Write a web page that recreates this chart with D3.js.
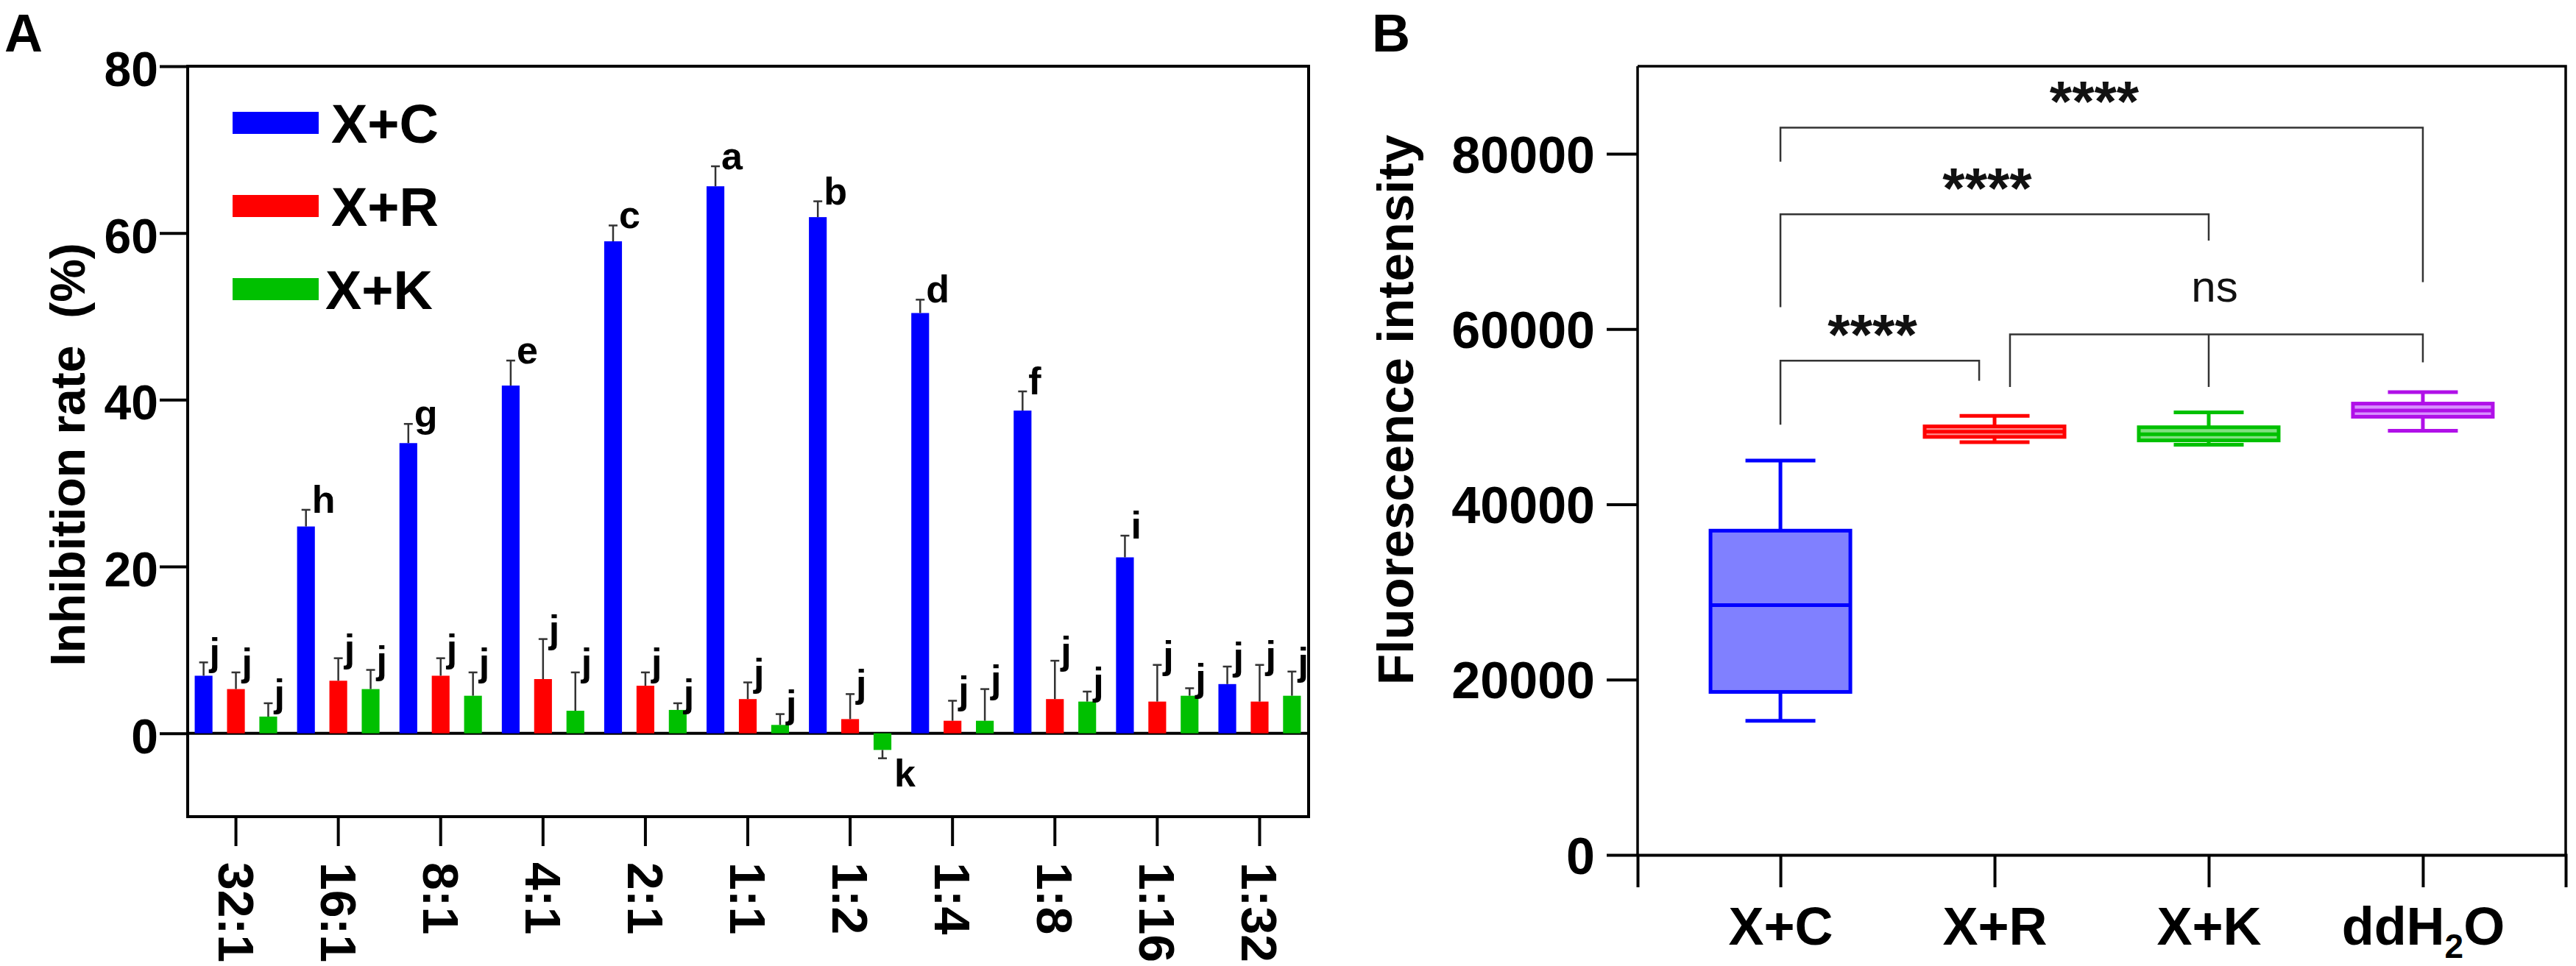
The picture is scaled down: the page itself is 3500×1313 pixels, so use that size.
<!DOCTYPE html>
<html>
<head>
<meta charset="utf-8">
<script src="https://cdn.jsdelivr.net/npm/d3@7/dist/d3.min.js"></script>
<style>
body{margin:0;background:#fff}
svg{display:block}
text{font-family:"Liberation Sans",Arial,Helvetica,sans-serif}
</style>
</head>
<body>
<svg id="chart" width="3500" height="1313"></svg>
<script>
// ---------- Panel A data ----------
const ratios = ["32:1","16:1","8:1","4:1","2:1","1:1","1:2","1:4","1:8","1:16","1:32"];
const seriesNames = ["X+C","X+R","X+K"];
const seriesColors = ["#0000ff","#ff0000","#00c000"];
const xcMean = [6.9,24.8,34.8,41.7,59.0,65.6,61.9,50.4,38.7,21.1,5.9];
const xcErr  = [1.6,2.0,2.3,3.0,1.9,2.4,1.9,1.6,2.3,2.6,2.1];
const xrMean = [5.3,6.3,6.9,6.5,5.7,4.1,1.7,1.5,4.1,3.8,3.8];
const xrErr  = [2.0,2.7,2.1,4.8,1.6,2.0,3.0,2.4,4.6,4.4,4.4];
const xkMean = [2.0,5.3,4.5,2.7,2.8,1.0,-2.0,1.5,3.8,4.5,4.5];
const xkErr  = [1.6,2.3,2.8,4.6,0.8,1.3,1.0,3.8,1.2,0.9,2.9];
const xcLetters = ["j","h","g","e","c","a","b","d","f","i","j"];
const xrLetters = ["j","j","j","j","j","j","j","j","j","j","j"];
const xkLetters = ["j","j","j","j","j","j","k","j","j","j","j"];
const yTicksA = [0,20,40,60,80];

// ---------- Panel B data ----------
const groups = ["X+C","X+R","X+K","ddH2O"];
const boxStroke = ["#0000ff","#ff0000","#00c000","#b010e8"];
const boxFill   = ["#8080ff","#ff9090","#80e080","#d890ff"];
const boxMin    = [15300,47100,46800,48400];
const boxQ1     = [18600,47700,47300,50000];
const boxMedian = [28500,48300,48000,50700];
const boxQ3     = [37000,48900,48800,51500];
const boxMax    = [45000,50100,50500,52800];
const yTicksB = [0,20000,40000,60000,80000];
// significance brackets (x in group index units)
const brFrom   = [0, 0, 0, 1.072];
const brTo     = [3, 2, 0.928, 3];
const brY      = [83000, 73100, 56400, 59400];
const brLeftEnd  = [79100, 62500, 49100, 53400];
const brRightEnd = [65350, 70100, 54100, 56200];
const brMid    = [null, null, null, 2];
const brMidEnd = [null, null, null, 53400];
const brLabels = ["****","****","****","ns"];

const svg = d3.select("#chart");
const FONT = '"Liberation Sans",Arial,sans-serif';

// =============== PANEL A =================
const A = {left:255, right:1778, top:90, bottom:1110};
const xA = d3.scaleBand().domain(ratios).range([251, 1781]).padding(0);
const sub = d3.scaleBand().domain(seriesNames).range([-56, 56]).paddingInner(0.45).paddingOuter(0);
const yA = d3.scaleLinear().domain([-10, 80]).range([A.bottom, A.top]);

svg.append("text").attr("x", 6).attr("y", 70).attr("font-size", 72).attr("font-weight", "bold").text("A");

const gA = svg.append("g");
// frame
gA.append("rect").attr("x", A.left).attr("y", A.top).attr("width", A.right - A.left).attr("height", A.bottom - A.top)
  .attr("fill", "none").attr("stroke", "#000").attr("stroke-width", 4);

// y axis
const yAxisA = d3.axisLeft(yA).tickValues(yTicksA).tickSize(38).tickPadding(2).tickFormat(d3.format("d"));
const gy = gA.append("g").attr("transform", `translate(${A.left},0)`).call(yAxisA);
gy.select(".domain").remove();
gy.selectAll(".tick line").attr("stroke", "#000").attr("stroke-width", 4);
gy.selectAll(".tick text").attr("font-size", 66).attr("font-weight", "bold").attr("fill", "#000")
  .attr("font-family", FONT).attr("dy", "0.4em");

// zero line
gA.append("line").attr("x1", A.left).attr("x2", A.right).attr("y1", yA(0)).attr("y2", yA(0))
  .attr("stroke", "#000").attr("stroke-width", 4);

// x axis
const xAxisA = d3.axisBottom(xA).tickSize(40).tickPadding(0);
const gx = gA.append("g").attr("transform", `translate(0,${A.bottom})`).call(xAxisA);
gx.select(".domain").remove();
gx.selectAll(".tick line").attr("stroke", "#000").attr("stroke-width", 4);
gx.selectAll(".tick text").attr("font-size", 68).attr("font-weight", "bold").attr("fill", "#000")
  .attr("font-family", FONT)
  .attr("text-anchor", "start").attr("dy", null).attr("y", 0)
  .attr("transform", "translate(0,62) rotate(90)").attr("dominant-baseline", "central");

// y label
svg.append("text").attr("transform", `translate(92,618) rotate(-90)`).attr("text-anchor", "middle")
  .attr("dominant-baseline", "central").attr("font-size", 66).attr("font-weight", "bold")
  .style("white-space", "pre").text("Inhibition rate  (%)");

// bars
const means = [xcMean, xrMean, xkMean];
const errs = [xcErr, xrErr, xkErr];
const letters = [xcLetters, xrLetters, xkLetters];
const barData = [];
seriesNames.forEach((s, si) => {
  ratios.forEach((r, ri) => {
    barData.push({s, si, r, v: means[si][ri], e: errs[si][ri], l: letters[si][ri]});
  });
});
const bw = sub.bandwidth();
const cx = d => xA(d.r) + xA.bandwidth() / 2 + sub(d.s) + bw / 2;
gA.append("g").selectAll("rect").data(barData).join("rect")
  .attr("x", d => cx(d) - bw / 2)
  .attr("width", bw)
  .attr("y", d => yA(Math.max(0, d.v)))
  .attr("height", d => Math.abs(yA(d.v) - yA(0)))
  .attr("fill", d => seriesColors[d.si]);

// error bars (one-sided, away from zero)
const errEnd = d => d.v >= 0 ? d.v + d.e : d.v - d.e;
const eg = gA.append("g").attr("stroke", "#333").attr("stroke-width", 2.5);
eg.selectAll("line.v").data(barData).join("line").attr("class", "v")
  .attr("x1", cx).attr("x2", cx).attr("y1", d => yA(d.v)).attr("y2", d => yA(errEnd(d)));
eg.selectAll("line.c").data(barData).join("line").attr("class", "c")
  .attr("x1", d => cx(d) - 6).attr("x2", d => cx(d) + 6).attr("y1", d => yA(errEnd(d))).attr("y2", d => yA(errEnd(d)));

// letters
gA.append("g").selectAll("text").data(barData).join("text")
  .attr("x", d => cx(d) + (d.v >= 0 ? 8 : 16))
  .attr("y", d => d.v >= 0 ? yA(errEnd(d)) + 4 : yA(errEnd(d)) + 38)
  .attr("font-size", 52).attr("font-weight", "bold").attr("fill", "#000")
  .text(d => d.l);

// legend
const leg = gA.append("g");
seriesNames.forEach((s, i) => {
  const ly = 152 + i * 113;
  leg.append("rect").attr("x", 316).attr("y", ly).attr("width", 117).attr("height", 30).attr("fill", seriesColors[i]);
  leg.append("text").attr("x", i === 2 ? 442 : 450).attr("y", ly + 15).attr("dy", "0.36em")
    .attr("font-size", 74).attr("font-weight", "bold").text(s);
});

// =============== PANEL B =================
const B = {left:2225, right:3486, top:90, bottom:1162};
const xB = d3.scalePoint().domain(groups).range([B.left, B.right]).padding(0.667);
const yB = d3.scaleLinear().domain([0, 90000]).range([B.bottom, B.top]);
const stepB = xB.step();
const xi = v => xB(groups[0]) + v * stepB;

svg.append("text").attr("x", 1864).attr("y", 70).attr("font-size", 72).attr("font-weight", "bold").text("B");

const gB = svg.append("g");
gB.append("path").attr("d", `M${B.left},${B.top}H${B.right}V${B.bottom}`)
  .attr("fill", "none").attr("stroke", "#000").attr("stroke-width", 3.5);

const yAxisB = d3.axisLeft(yB).tickValues(yTicksB).tickSize(42).tickPadding(16).tickFormat(d3.format("d"));
const gyB = gB.append("g").attr("transform", `translate(${B.left},0)`).call(yAxisB);
gyB.select(".domain").attr("stroke", "#000").attr("stroke-width", 3.5).attr("d", `M0,${B.top}V${B.bottom}`);
gyB.selectAll(".tick line").attr("stroke", "#000").attr("stroke-width", 4);
gyB.selectAll(".tick text").attr("font-size", 70).attr("font-weight", "bold").attr("fill", "#000")
  .attr("font-family", FONT).attr("dy", "0.36em");

const xAxisB = d3.axisBottom(xB).tickSize(44).tickPadding(22).tickFormat(() => "");
const gxB = gB.append("g").attr("transform", `translate(0,${B.bottom})`).call(xAxisB);
gxB.select(".domain").attr("stroke", "#000").attr("stroke-width", 4);
gxB.selectAll(".tick line").attr("stroke", "#000").attr("stroke-width", 4);
gxB.selectAll(".tick").each(function(d) {
  const t = d3.select(this).append("text").attr("y", 122).attr("text-anchor", "middle")
    .attr("font-size", 72).attr("font-weight", "bold").attr("fill", "#000").attr("font-family", FONT);
  if (d === "ddH2O") {
    t.append("tspan").text("ddH");
    t.append("tspan").attr("font-size", 46).attr("dy", 18).text("2");
    t.append("tspan").attr("dy", -18).text("O");
  } else {
    t.text(d);
  }
});

svg.append("text").attr("transform", `translate(1896,557) rotate(-90)`).attr("text-anchor", "middle")
  .attr("dominant-baseline", "central").attr("font-size", 69).attr("font-weight", "bold")
  .text("Fluorescence intensity");

// box plots
const boxW = 190, capW = 95;
groups.forEach((g, i) => {
  const x = xB(g);
  const bg = gB.append("g").attr("stroke", boxStroke[i]).attr("stroke-width", 5);
  bg.append("line").attr("x1", x).attr("x2", x).attr("y1", yB(boxMax[i])).attr("y2", yB(boxQ3[i]));
  bg.append("line").attr("x1", x).attr("x2", x).attr("y1", yB(boxQ1[i])).attr("y2", yB(boxMin[i]));
  bg.append("line").attr("x1", x - capW / 2).attr("x2", x + capW / 2).attr("y1", yB(boxMax[i])).attr("y2", yB(boxMax[i]));
  bg.append("line").attr("x1", x - capW / 2).attr("x2", x + capW / 2).attr("y1", yB(boxMin[i])).attr("y2", yB(boxMin[i]));
  bg.append("rect").attr("x", x - boxW / 2).attr("width", boxW)
    .attr("y", yB(boxQ3[i])).attr("height", yB(boxQ1[i]) - yB(boxQ3[i])).attr("fill", boxFill[i]);
  bg.append("line").attr("x1", x - boxW / 2).attr("x2", x + boxW / 2).attr("y1", yB(boxMedian[i])).attr("y2", yB(boxMedian[i]));
});

// brackets
const brG = gB.append("g").attr("fill", "none").attr("stroke", "#333").attr("stroke-width", 2.5);
brLabels.forEach((lab, i) => {
  const x1 = xi(brFrom[i]), x2 = xi(brTo[i]), y = yB(brY[i]);
  brG.append("path").attr("d", `M${x1},${yB(brLeftEnd[i])}V${y}H${x2}V${yB(brRightEnd[i])}`);
  if (brMid[i] !== null) {
    brG.append("path").attr("d", `M${xi(brMid[i])},${y}V${yB(brMidEnd[i])}`);
  }
  const isNs = lab === "ns";
  gB.append("text").attr("x", isNs ? xi(brMid[i]) + 8 : (x1 + x2) / 2 - 10)
    .attr("y", isNs ? y - 44 : y - 8)
    .attr("text-anchor", "middle").attr("font-size", isNs ? 60 : 78)
    .attr("font-weight", isNs ? "normal" : "bold").attr("fill", "#111").text(lab);
});
</script>
</body>
</html>
